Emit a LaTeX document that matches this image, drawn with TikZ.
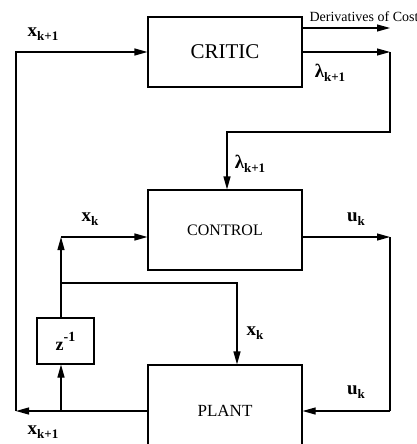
\documentclass[tikz,border=0pt]{standalone}
\usepackage{fontspec}
\setmainfont{Liberation Serif}
\usetikzlibrary{arrows.meta}
\newcommand\mysub[1]{\raisebox{-3.5pt}{\fontsize{13}{13}\selectfont #1}}
\tikzset{
  blk/.style={draw, line width=1.2pt, inner sep=0pt, anchor=center},
  arr/.style={line width=1.2pt, -{Triangle[length=13pt,width=7pt]}},
  ln/.style={line width=1.2pt},
  lbl/.style={inner sep=0pt, font=\fontsize{19}{19}\selectfont\bfseries}
}
\begin{document}
\begin{tikzpicture}[x=1pt,y=-1pt]
\useasboundingbox (0,0) rectangle (417,444);
\clip (0,0) rectangle (417,444);
% blocks
\node[blk, minimum width=154pt, minimum height=70pt, font=\fontsize{21}{21}\selectfont] (critic) at (225,52) {CRITIC};
\node[blk, minimum width=154pt, minimum height=80pt, font=\fontsize{16}{16}\selectfont] (control) at (225,230) {CONTROL};
\node[blk, minimum width=154pt, minimum height=95pt] (plant) at (225,412.5) {};
\node[font=\fontsize{17}{17}\selectfont] (plantlbl) at (225,411) {PLANT};
\node[blk, minimum width=57pt, minimum height=46pt, font=\fontsize{18}{18}\selectfont\bfseries] (z) at (65.5,341) {z\raisebox{9pt}{\fontsize{14}{14}\selectfont -1}};
% coordinates
\coordinate (tl) at (16,52);
\coordinate (bl) at (16,411);
\coordinate (dc) at (390,28);
\coordinate (lr) at (390,52);
\coordinate (lc1) at (390,132);
\coordinate (lc2) at (227,132);
\coordinate (xj) at (61,237);
\coordinate (bj) at (61,283);
\coordinate (bk) at (237,283);
\coordinate (ur) at (390,237);
\coordinate (ub) at (390,411);
\coordinate (pj) at (61,411);
% connectors
\draw[arr] (bl) -- (tl) -- (critic.west |- tl);
\draw[arr] (critic.east |- dc) -- (dc);
\draw[arr] (critic.east |- lr) -- (lr);
\draw[arr] (lr) -- (lc1) -- (lc2) -- (lc2 |- control.north);
\draw[arr] (xj) -- (xj -| control.west);
\draw[arr] (z.north -| xj) -- (xj);
\draw[arr] (bj) -- (bk) -- (bk |- plant.north);
\draw[arr] (control.east |- ur) -- (ur);
\draw[ln] (ur) -- (ub);
\draw[arr] (ub) -- (ub -| plant.east);
\draw[arr] (plant.west |- bl) -- (bl);
\draw[arr] (pj) -- (pj |- z.south);
% labels
\node[font=\fontsize{14}{14}\selectfont] (dlbl) at (364,17) {Derivatives of Cost};
\node[lbl] (l1) at (43,34) {x\mysub{k+1}};
\node[lbl] (l2) at (330,73) {λ\mysub{k+1}};
\node[lbl] (l3) at (250,164) {λ\mysub{k+1}};
\node[lbl] (l4) at (90,219) {x\mysub{k}};
\node[lbl] (l5) at (356,219) {u\mysub{k}};
\node[lbl] (l6) at (255,333) {x\mysub{k}};
\node[lbl] (l7) at (356,392) {u\mysub{k}};
\node[lbl] (l8) at (43,432) {x\mysub{k+1}};
\end{tikzpicture}
\end{document}
